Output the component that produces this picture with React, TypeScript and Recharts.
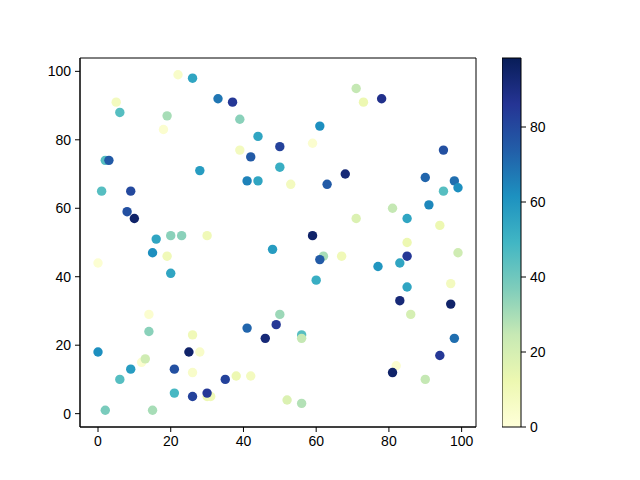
import { ScatterChart, Scatter, XAxis, YAxis, ReferenceArea, BarChart, Bar } from 'recharts';

// point positions and colour values
const xs = [22, 26, 5, 6, 33, 37, 19, 18, 39, 44, 39, 42, 50, 50, 2, 3, 28, 41, 44, 1,
  9, 8, 10, 16, 20, 23, 30, 48, 15, 71, 73, 78, 61, 59, 53, 63, 68, 95, 90, 98,
  99, 95, 91, 81, 85, 71, 94, 59, 85, 99, 19, 0, 20, 14, 14, 26, 50, 49, 41, 46,
  0, 25, 28, 12, 13, 21, 9, 26, 6, 38, 42, 35, 21, 30, 31, 26, 30, 2, 15, 62,
  61, 67, 60, 77, 83, 85, 97, 85, 83, 97, 86, 56, 56, 98, 94, 82, 81, 90, 52, 56];
const ys = [99, 98, 91, 88, 92, 91, 87, 83, 86, 81, 77, 75, 78, 72, 74, 74, 71, 68, 68, 65,
  65, 59, 57, 51, 52, 52, 52, 48, 47, 95, 91, 92, 84, 79, 67, 67, 70, 77, 69, 68,
  66, 65, 61, 60, 57, 57, 55, 52, 50, 47, 46, 44, 41, 29, 24, 23, 29, 26, 25, 22,
  18, 18, 18, 15, 16, 13, 13, 12, 10, 11, 11, 10, 6, 5, 5, 5, 6, 1, 1, 46,
  45, 46, 39, 43, 44, 46, 38, 37, 33, 32, 29, 23, 22, 22, 17, 14, 12, 10, 4, 3];
const cs = [5, 55, 8, 45, 68, 85, 30, 3, 35, 55, 8, 75, 82, 52, 45, 75, 58, 65, 55, 45,
  80, 78, 95, 55, 35, 35, 10, 58, 62, 25, 12, 88, 62, 3, 8, 75, 92, 78, 72, 70,
  62, 45, 64, 25, 55, 18, 12, 95, 12, 22, 10, 2, 55, 3, 35, 10, 32, 85, 72, 92,
  62, 95, 5, 3, 22, 78, 58, 5, 45, 12, 8, 82, 48, 12, 10, 82, 85, 38, 30, 30,
  75, 10, 52, 60, 55, 85, 8, 55, 92, 95, 20, 45, 25, 70, 85, 3, 95, 25, 18, 28];

const axisTicks = [0, 20, 40, 60, 80, 100];
const barTicks = [0, 20, 40, 60, 80];
const cMax = 98.4;

// YlGnBu stops
const ylgnbu = ['#ffffd9', '#edf8b1', '#c7e9b4', '#7fcdbb', '#41b6c4', '#1d91c0', '#225ea8', '#253494', '#081d58'];

const hex = (h: string) => [1, 3, 5].map((i) => parseInt(h.slice(i, i + 2), 16));

const colorFor = (v: number) => {
  const t = Math.min(1, Math.max(0, v / cMax)) * (ylgnbu.length - 1);
  const i = Math.min(ylgnbu.length - 2, Math.floor(t));
  const f = t - i;
  const a = hex(ylgnbu[i]);
  const b = hex(ylgnbu[i + 1]);
  const c = a.map((ch, k) => Math.round(ch + (b[k] - ch) * f));
  return `rgb(${c[0]},${c[1]},${c[2]})`;
};

const points = xs.map((x, i) => ({ x, y: ys[i], c: cs[i] }));
const barData = [{ name: 'c', v: cMax }];

const tickStyle = { fill: '#000', fontSize: 14, fontFamily: 'Liberation Sans, Arial, sans-serif' };

const Dot = (props: any) => (
  <circle cx={props.cx} cy={props.cy} r={4.7} fill={colorFor(props.payload.c)} />
);

export default function App() {
  return (
    <div style={{ position: 'absolute', left: 0, top: 0, width: 640, height: 480, background: '#fff' }}>
      <div style={{ position: 'absolute', left: 0, top: 0 }}>
        <ScatterChart width={500} height={480} margin={{ top: 58, right: 24, bottom: 23, left: 40 }}>
          <XAxis
            type="number"
            dataKey="x"
            domain={[-4.95, 103.95]}
            ticks={axisTicks}
            height={30}
            tick={tickStyle}
            tickSize={5}
            tickMargin={4}
            stroke="#000"
            allowDataOverflow
          />
          <YAxis
            type="number"
            dataKey="y"
            domain={[-3.9, 103.9]}
            ticks={axisTicks}
            width={40}
            tick={tickStyle}
            tickSize={5}
            tickMargin={4}
            stroke="#000"
            allowDataOverflow
          />
          <ReferenceArea x1={-4.95} x2={103.95} y1={-3.9} y2={103.9} fill="none" stroke="#000" strokeWidth={1} fillOpacity={0} />
          <Scatter data={points} shape={Dot} isAnimationActive={false} />
        </ScatterChart>
      </div>
      <div style={{ position: 'absolute', left: 502, top: 0 }}>
        <BarChart width={70} height={480} data={barData} barCategoryGap={0} margin={{ top: 58, right: 0, bottom: 53, left: 0 }}>
          <defs>
            <linearGradient id="cbar" x1="0" y1="1" x2="0" y2="0">
              {ylgnbu.map((col, i) => (
                <stop key={col} offset={i / (ylgnbu.length - 1)} stopColor={col} />
              ))}
            </linearGradient>
          </defs>
          <XAxis dataKey="name" hide />
          <YAxis
            orientation="right"
            type="number"
            domain={[0, cMax]}
            ticks={barTicks}
            width={51}
            tick={{ ...tickStyle, textAnchor: 'start' }}
            tickSize={5}
            tickMargin={4}
            stroke="#000"
            axisLine={false}
          />
          <Bar dataKey="v" fill="url(#cbar)" stroke="#000" strokeWidth={1} isAnimationActive={false} />
        </BarChart>
      </div>
    </div>
  );
}
